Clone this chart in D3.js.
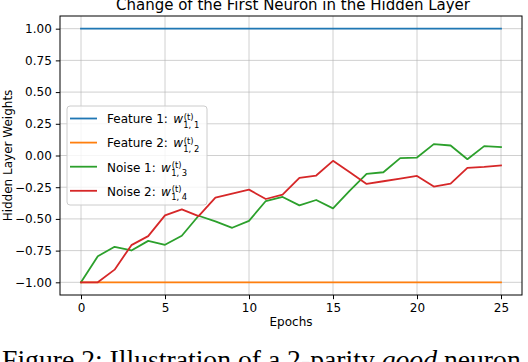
<!DOCTYPE html>
<html>
<head>
<meta charset="utf-8">
<script src="https://cdn.jsdelivr.net/npm/d3@7"></script>
<style>
  body { margin: 0; background: #fff; }
  svg { display: block; }
  text { font-family: "DejaVu Sans", sans-serif; }
</style>
</head>
<body>
<svg id="chart" width="528" height="362"></svg>
<script>
const epochs = [0, 1, 2, 3, 4, 5, 6, 7, 8, 9, 10, 11, 12, 13, 14, 15, 16, 17, 18, 19, 20, 21, 22, 23, 24, 25];
const feature1 = [1, 1, 1, 1, 1, 1, 1, 1, 1, 1, 1, 1, 1, 1, 1, 1, 1, 1, 1, 1, 1, 1, 1, 1, 1, 1];
const feature2 = [-1, -1, -1, -1, -1, -1, -1, -1, -1, -1, -1, -1, -1, -1, -1, -1, -1, -1, -1, -1, -1, -1, -1, -1, -1, -1];
const noise1 = [-1.0, -0.794, -0.72, -0.749, -0.673, -0.704, -0.633, -0.475, -0.52, -0.57, -0.515, -0.359, -0.327, -0.393, -0.351, -0.417, -0.277, -0.145, -0.132, -0.021, -0.016, 0.09, 0.079, -0.029, 0.074, 0.066];
const noise2 = [-1.0, -1.0, -0.9, -0.707, -0.636, -0.472, -0.425, -0.478, -0.332, -0.301, -0.269, -0.343, -0.309, -0.177, -0.158, -0.042, -0.132, -0.224, -0.203, -0.182, -0.161, -0.245, -0.222, -0.098, -0.09, -0.079];

const xTicks = [0, 5, 10, 15, 20, 25];
const yTicks = [-1.0, -0.75, -0.5, -0.25, 0.0, 0.25, 0.5, 0.75, 1.0];

const series = [
  { name: "Feature 1: ", sub: "1, 1", values: feature1, color: "#1f77b4" },
  { name: "Feature 2: ", sub: "1, 2", values: feature2, color: "#ff7f0e" },
  { name: "Noise 1: ", sub: "1, 3", values: noise1, color: "#2ca02c" },
  { name: "Noise 2: ", sub: "1, 4", values: noise2, color: "#d62728" }
];

const plot = { left: 60, right: 522, top: 16, bottom: 295 };

const svg = d3.select("#chart");

const x = d3.scaleLinear().domain([-1.25, 26.25]).range([plot.left, plot.right]);
const y = d3.scaleLinear().domain([-1.1, 1.1]).range([plot.bottom, plot.top]);

// grid
const grid = svg.append("g").attr("id", "gGrid");
grid.selectAll("line.vg")
  .data(xTicks)
  .enter()
  .append("line")
  .attr("x1", (d) => x(d)).attr("x2", (d) => x(d))
  .attr("y1", plot.top).attr("y2", plot.bottom)
  .attr("stroke", "#b0b0b0").attr("stroke-opacity", 0.6).attr("stroke-width", 1);
grid.selectAll("line.hg")
  .data(yTicks)
  .enter()
  .append("line")
  .attr("y1", (d) => y(d)).attr("y2", (d) => y(d))
  .attr("x1", plot.left).attr("x2", plot.right)
  .attr("stroke", "#b0b0b0").attr("stroke-opacity", 0.6).attr("stroke-width", 1);

// axes
svg.append("g")
  .attr("id", "gXAxis")
  .attr("transform", `translate(0, ${plot.bottom})`)
  .call(d3.axisBottom(x).tickValues(xTicks).tickSize(4.2).tickPadding(4).tickFormat(d3.format("d")));
svg.append("g")
  .attr("id", "gYAxis")
  .attr("transform", `translate(${plot.left}, 0)`)
  .call(d3.axisLeft(y).tickValues(yTicks).tickSize(4.2).tickPadding(4).tickFormat((d) => d3.format(".2f")(d).replace("-", "\u2212")));

svg.selectAll("#gXAxis path, #gYAxis path").remove();
svg.selectAll(".tick line").attr("stroke", "#000").attr("stroke-width", 1);
svg.selectAll(".tick text").attr("font-family", "DejaVu Sans").attr("font-size", 12).attr("fill", "#000");

// lines
const line = d3.line().x((d, i) => x(epochs[i])).y((d) => y(d));
svg.append("g")
  .attr("id", "gLines")
  .selectAll("path")
  .data(series)
  .enter()
  .append("path")
  .attr("d", (d) => line(d.values))
  .attr("fill", "none")
  .attr("stroke", (d) => d.color)
  .attr("stroke-width", 1.8)
  .attr("stroke-linejoin", "round")
  .attr("stroke-linecap", "square");

// spines
svg.append("rect")
  .attr("x", plot.left).attr("y", plot.top)
  .attr("width", plot.right - plot.left).attr("height", plot.bottom - plot.top)
  .attr("fill", "none").attr("stroke", "#000").attr("stroke-width", 1);

// legend
const legend = svg.append("g").attr("id", "gLegend");
legend.append("rect")
  .attr("x", 67).attr("y", 106).attr("width", 140).attr("height", 99)
  .attr("rx", 3)
  .attr("fill", "#fff").attr("fill-opacity", 0.8)
  .attr("stroke", "#cccccc").attr("stroke-width", 1);

series.forEach(function (s, i) {
  const cy = 118.5 + i * 24.1;
  legend.append("line")
    .attr("x1", 70).attr("x2", 97)
    .attr("y1", cy).attr("y2", cy)
    .attr("stroke", s.color).attr("stroke-width", 1.8);
  const t = legend.append("text")
    .attr("x", 107).attr("y", cy + 4.8)
    .attr("font-size", 12);
  t.append("tspan").text(s.name);
  t.append("tspan").attr("font-style", "italic").attr("dx", 1.5).text("w");
  const w = t.node().getComputedTextLength() + 1.5;
  legend.append("text")
    .attr("x", 107 + w + 0.8).attr("y", cy + 1.2)
    .attr("font-size", 8.4)
    .text("(t)");
  legend.append("text")
    .attr("x", 107 + w + 0.3).attr("y", cy + 9.5)
    .attr("font-size", 8.4)
    .text(s.sub);
});

// title and labels
svg.append("text")
  .attr("x", (plot.left + plot.right) / 2 + 2).attr("y", 9.5)
  .attr("text-anchor", "middle")
  .attr("font-size", 15)
  .text("Change of the First Neuron in the Hidden Layer");

svg.append("text")
  .attr("x", (plot.left + plot.right) / 2).attr("y", 326)
  .attr("text-anchor", "middle")
  .attr("font-size", 12)
  .text("Epochs");

svg.append("text")
  .attr("transform", `translate(12, ${(plot.top + plot.bottom) / 2}) rotate(-90)`)
  .attr("text-anchor", "middle")
  .attr("font-size", 12)
  .text("Hidden Layer Weights");

// caption below the figure (cut by the page edge)
const cap = svg.append("text")
  .attr("x", 2)
  .style("font-family", "'Liberation Serif', serif")
  .attr("font-size", 20);
cap.append("tspan").text("Figure 2: Illustration of a 2-parity ");
cap.append("tspan").attr("font-style", "italic").text("good");
cap.append("tspan").text(" neuron");
const capW = cap.node().getComputedTextLength();
const capFs = 20 * 519 / capW;
cap.attr("font-size", capFs).attr("y", 351 + 0.662 * capFs);
</script>
</body>
</html>
